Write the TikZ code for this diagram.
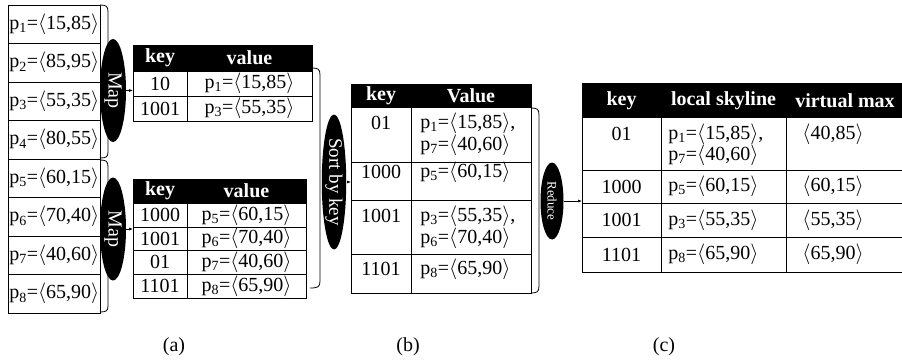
\documentclass[tikz,border=0pt]{standalone}
\usepackage{fontspec}
\setmainfont{Liberation Serif}
\usetikzlibrary{shapes.geometric,arrows.meta}
\newcommand\ang[1]{\ensuremath{\langle}#1\ensuremath{\rangle}}
\newcommand\pnt[2]{p\textsubscript{#1}=\ang{#2}}
\begin{document}
\begin{tikzpicture}[x=1pt,y=-1pt,line width=0.8pt,
  every node/.style={inner sep=0pt},
  txt/.style={font=\fontsize{20}{22}\selectfont},
  hd/.style={text=white,font=\fontsize{20}{22}\selectfont\bfseries},
  frame/.style={draw,anchor=north west},
  oval/.style={ellipse,fill=black,text=white,rotate=-90,inner sep=0pt},
  arr/.style={-{Latex[length=4pt,width=3pt]},line width=0.6pt}]
\useasboundingbox (0,0) rectangle (902,361);

% ---------- input column ----------
\node[frame,minimum width=92pt,minimum height=308pt] (col) at (8,5) {};
\foreach \y in {43.5,82,120.5,159,197.5,236,274.5}
  \draw (8,\y) -- (100,\y);
\node[txt,anchor=west] (p1) at (9,24.25) {\pnt{1}{15,85}};
\node[txt,anchor=west] (p2) at (9,62.75) {\pnt{2}{85,95}};
\node[txt,anchor=west] (p3) at (9,101.25) {\pnt{3}{55,35}};
\node[txt,anchor=west] (p4) at (9,139.75) {\pnt{4}{80,55}};
\node[txt,anchor=west] (p5) at (9,178.25) {\pnt{5}{60,15}};
\node[txt,anchor=west] (p6) at (9,216.75) {\pnt{6}{70,40}};
\node[txt,anchor=west] (p7) at (9,255.25) {\pnt{7}{40,60}};
\node[txt,anchor=west] (p8) at (9,293.75) {\pnt{8}{65,90}};
% brackets
\draw (100,5) .. controls (106,5) and (108,6) .. (108,12) -- (108,152) .. controls (108,157) and (106,158) .. (100,158);
\draw (100,160) .. controls (106,160) and (108,161) .. (108,167) -- (108,306) .. controls (108,311) and (106,312) .. (100,312);

% ---------- map ovals ----------
\node[oval,txt,text=white,minimum width=103pt,minimum height=26pt] (map1) at (113,90.5) {Map};
\node[oval,txt,text=white,minimum width=103pt,minimum height=26pt] (map2) at (113,229) {Map};

% ---------- table 1 ----------
\node[frame,minimum width=179pt,minimum height=76pt] (tab1) at (133,45) {};
\fill (133,45) rectangle (312,71);
\draw (187,45) -- (187,121);
\draw (133,71) -- (312,71);
\draw (133,96) -- (312,96);
\node[hd] (t1h1) at (160,58) {key};
\node[hd] (t1h2) at (249.5,58) {value};
\node[txt] (t1k1) at (160,83.5) {10};
\node[txt] (t1v1) at (249.5,83.5) {\pnt{1}{15,85}};
\node[txt] (t1k2) at (160,108.5) {1001};
\node[txt] (t1v2) at (249.5,108.5) {\pnt{3}{55,35}};

% ---------- table 2 ----------
\node[frame,minimum width=173pt,minimum height=119pt] (tab2) at (133,179) {};
\fill (133,179) rectangle (306,203);
\draw (187,179) -- (187,298);
\foreach \y in {203,227,250,274}
  \draw (133,\y) -- (306,\y);
\node[hd] (t2h1) at (160,191) {key};
\node[hd] (t2h2) at (246.5,191) {value};
\node[txt] (t2k1) at (160,215) {1000};
\node[txt] (t2v1) at (246.5,215) {\pnt{5}{60,15}};
\node[txt] (t2k2) at (160,238.5) {1001};
\node[txt] (t2v2) at (246.5,238.5) {\pnt{6}{70,40}};
\node[txt] (t2k3) at (160,262) {01};
\node[txt] (t2v3) at (246.5,262) {\pnt{7}{40,60}};
\node[txt] (t2k4) at (160,286) {1101};
\node[txt] (t2v4) at (246.5,286) {\pnt{8}{65,90}};

\draw[arr] (map1) -- (map1 -| tab1.west);
\draw[arr] (map2) -- (map2 -| tab2.west);

% bracket to sort
\draw (312,68) .. controls (318,68) and (320,69) .. (320,75) -- (320,281) .. controls (320,287) and (318,288) .. (310,288);

% ---------- sort oval ----------
\node[oval,font=\fontsize{19}{21}\selectfont,minimum width=135pt,minimum height=22pt] (sort) at (334,182) {Sort by key};

% ---------- table 3 ----------
\node[frame,minimum width=180pt,minimum height=209pt] (tab3) at (351,84) {};
\fill (351,84) rectangle (531,107);
\draw (411,84) -- (411,293);
\foreach \y in {107,162,200,254}
  \draw (351,\y) -- (531,\y);
\node[hd] (t3h1) at (381,95.5) {key};
\node[hd] (t3h2) at (471,95.5) {Value};
\node[txt] (t3k1) at (381,123) {01};
\node[txt,anchor=west] (t3v1a) at (420,123) {\pnt{1}{15,85},};
\node[txt,anchor=west] (t3v1b) at (420,145) {\pnt{7}{40,60}};
\node[txt] (t3k2) at (381,172) {1000};
\node[txt,anchor=west] (t3v2) at (420,172) {\pnt{5}{60,15}};
\node[txt] (t3k3) at (381,216) {1001};
\node[txt,anchor=west] (t3v3a) at (420,216) {\pnt{3}{55,35},};
\node[txt,anchor=west] (t3v3b) at (420,238) {\pnt{6}{70,40}};
\node[txt] (t3k4) at (381,269) {1101};
\node[txt,anchor=west] (t3v4) at (420,269) {\pnt{8}{65,90}};

\draw[arr] (sort) -- (sort -| tab3.west);

% bracket to reduce
\draw (531,108) .. controls (537,108) and (539,109) .. (539,115) -- (539,286) .. controls (539,292) and (537,293) .. (531,293);

% ---------- reduce oval ----------
\node[oval,font=\fontsize{13}{15}\selectfont,minimum width=77pt,minimum height=23pt] (reduce) at (552,201) {Reduce};

% ---------- table 4 ----------
\node[frame,minimum width=322pt,minimum height=189pt] (tab4) at (582,83) {};
\fill (582,83) rectangle (904,118);
\draw (661,83) -- (661,272);
\draw (786,83) -- (786,272);
\foreach \y in {170,203,237}
  \draw (582,\y) -- (904,\y);
\node[hd] (t4h1) at (621.5,100.5) {key};
\node[hd] (t4h2) at (723.5,100.5) {local skyline};
\node[hd] (t4h3) at (845,100.5) {virtual max};
\node[txt] (t4k1) at (621.5,134) {01};
\node[txt,anchor=west] (t4s1a) at (668,134) {\pnt{1}{15,85},};
\node[txt,anchor=west] (t4s1b) at (668,155) {\pnt{7}{40,60}};
\node[txt] (t4m1) at (833,134) {\ang{40,85}};
\node[txt] (t4k2) at (621.5,186.5) {1000};
\node[txt,anchor=west] (t4s2) at (668,186.5) {\pnt{5}{60,15}};
\node[txt] (t4m2) at (833,186.5) {\ang{60,15}};
\node[txt] (t4k3) at (621.5,220) {1001};
\node[txt,anchor=west] (t4s3) at (668,220) {\pnt{3}{55,35}};
\node[txt] (t4m3) at (833,220) {\ang{55,35}};
\node[txt] (t4k4) at (621.5,254.5) {1101};
\node[txt,anchor=west] (t4s4) at (668,254.5) {\pnt{8}{65,90}};
\node[txt] (t4m4) at (833,254.5) {\ang{65,90}};

\draw[arr] (reduce) -- (reduce -| tab4.west);

% ---------- captions ----------
\node[txt] (capa) at (174,347) {(a)};
\node[txt] (capb) at (408,347) {(b)};
\node[txt] (capc) at (664,347) {(c)};
\end{tikzpicture}
\end{document}
